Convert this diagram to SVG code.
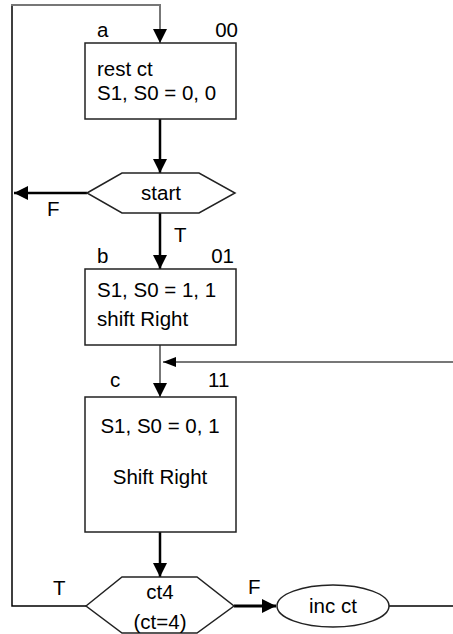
<svg xmlns="http://www.w3.org/2000/svg" width="453" height="634" viewBox="0 0 453 634">
<style>
text{font-family:"Liberation Sans",Arial,sans-serif;font-size:20.5px;fill:#000}
.box{fill:#fff;stroke:#222;stroke-width:1.5}
.thin{fill:none;stroke:#000;stroke-width:1.5}
.gray{fill:none;stroke:#777;stroke-width:2}
.thick{fill:none;stroke:#000;stroke-width:2.5}
.mid{text-anchor:middle}
.end{text-anchor:end}
</style>
<defs>
<marker id="ah" markerUnits="userSpaceOnUse" markerWidth="14" markerHeight="14" refX="14" refY="7" orient="auto"><path d="M0,0L14,7L0,14z" fill="#000"/></marker>
<marker id="ahs" markerUnits="userSpaceOnUse" markerWidth="14" markerHeight="10" refX="13" refY="5" orient="auto"><path d="M0,0L13,5L0,10z" fill="#000"/></marker>
</defs>
<rect width="453" height="634" fill="#fff"/>
<g id="connectors">
<polyline class="thin" points="86,606 12,606 12,5"/>
<polyline class="gray" points="11,5 160,5 160,43" marker-end="url(#ah)"/>
<line class="thick" x1="160" y1="119" x2="160" y2="173" marker-end="url(#ah)"/>
<line class="thick" x1="87" y1="193" x2="14" y2="193" marker-end="url(#ah)"/>
<line class="thick" x1="160" y1="213" x2="160" y2="269" marker-end="url(#ah)"/>
<line class="gray" x1="160" y1="345" x2="160" y2="397" marker-end="url(#ah)"/>
<line class="gray" x1="453" y1="362" x2="163" y2="362" marker-end="url(#ahs)"/>
<line class="thick" x1="160" y1="532" x2="160" y2="577" marker-end="url(#ah)"/>
<line x1="234" y1="606" x2="276" y2="606" stroke="#000" stroke-width="3" marker-end="url(#ah)"/>
<line class="thin" x1="389" y1="606" x2="453" y2="606"/>
<text x="47" y="216">F</text>
<text x="174" y="242">T</text>
<text x="53" y="595">T</text>
<text x="248" y="594">F</text>
</g>
<g id="a">
<rect class="box" x="85" y="43" width="151" height="76"/>
<text x="97" y="37">a</text>
<text class="end" x="238" y="37">00</text>
<text x="97" y="76">rest ct</text>
<text x="97" y="100">S1, S0 = 0, 0</text>
</g>
<g id="start">
<polygon class="box" points="87,193 122,173 199,173 235,193 199,213 122,213"/>
<text class="mid" x="161" y="200">start</text>
</g>
<g id="b">
<rect class="box" x="85" y="269" width="151" height="76"/>
<text x="97" y="263">b</text>
<text class="end" x="234" y="263">01</text>
<text x="97" y="297">S1, S0 = 1, 1</text>
<text x="97" y="326">shift Right</text>
</g>
<g id="c">
<rect class="box" x="85" y="397" width="151" height="135"/>
<text x="110" y="387">c</text>
<text x="208" y="387">11</text>
<text class="mid" x="160" y="433">S1, S0 = 0, 1</text>
<text class="mid" x="160" y="484">Shift Right</text>
</g>
<g id="ct4">
<polygon class="box" points="86,606 122,577 197,577 234,606 197,633 122,633"/>
<text class="mid" x="160" y="599">ct4</text>
<text class="mid" x="160" y="629">(ct=4)</text>
</g>
<g id="inc">
<ellipse class="box" cx="333" cy="606" rx="56" ry="21"/>
<text class="mid" x="333" y="613">inc ct</text>
</g>
</svg>
